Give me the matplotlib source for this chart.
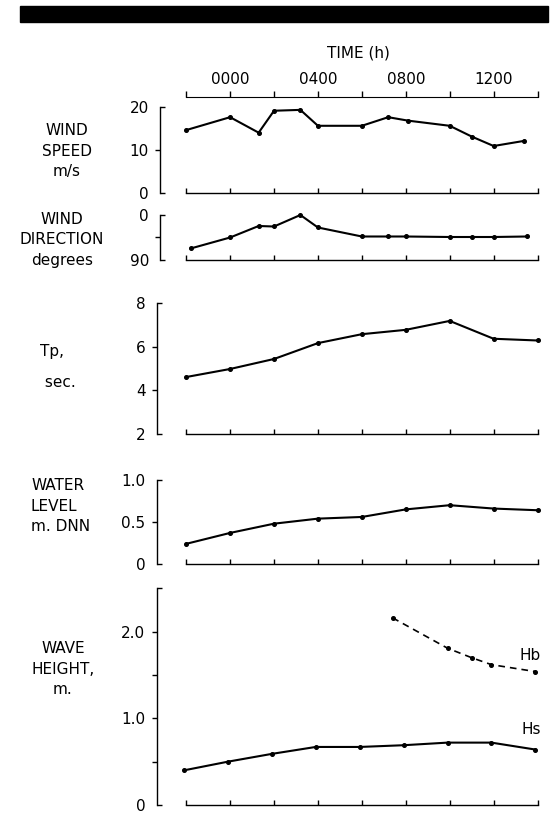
import matplotlib
matplotlib.use("Agg")
import matplotlib.pyplot as plt
from matplotlib.patches import Rectangle

# time axis (hours relative to 0000)
hour_ticks = [-2, 0, 2, 4, 6, 8, 10, 12, 14]
hour_labels = ["", "0000", "", "0400", "", "0800", "", "1200", ""]

# wind speed, m/s
wind_speed_t = [-2.0, 0.0, 1.3, 2.0, 3.2, 4.0, 6.0, 7.2, 8.1, 10.0, 11.0, 12.0, 13.4]
wind_speed = [14.7, 17.7, 14.1, 19.2, 19.4, 15.7, 15.7, 17.7, 16.9, 15.7, 13.2, 11.0, 12.2]

# wind direction, degrees
wind_dir_t = [-1.8, 0.0, 1.3, 2.0, 3.2, 4.0, 6.0, 7.2, 8.0, 10.0, 11.0, 12.0, 13.5]
wind_dir = [67, 45, 22, 23, 0, 25, 43, 43, 43, 44, 44, 44, 43]

# peak period, s
tp_t = [-2, 0, 2, 4, 6, 8, 10, 12, 14]
tp = [4.61, 4.98, 5.44, 6.17, 6.58, 6.78, 7.19, 6.37, 6.29]

# water level, m DNN
water_t = [-2, 0, 2, 4, 6, 8, 10, 12, 14]
water = [0.24, 0.37, 0.48, 0.54, 0.56, 0.65, 0.70, 0.66, 0.64]

# wave heights, m
hs_t = [-2.1, -0.1, 1.9, 3.9, 5.9, 7.9, 9.9, 11.9, 13.9]
hs = [0.40, 0.50, 0.59, 0.67, 0.67, 0.69, 0.72, 0.72, 0.64]
hb_t = [7.4, 9.9, 11.0, 11.9, 13.9]
hb = [2.16, 1.81, 1.70, 1.62, 1.54]

W, H = 551, 813
X0, PPH = 230.1, 21.96   # pixel of hour 0, pixels per hour
XR = 14.3
FS = 11
TL = 3.5

plt.rcParams['font.family'] = ['DejaVu Sans']
fig = plt.figure(figsize=(W / 100, H / 100), dpi=100)

# black bar across the top
fig.patches.append(Rectangle((20 / W, 1 - 22 / H), (548 - 20) / W, 16 / H,
                             transform=fig.transFigure, color='black'))


def add_panel(left_px, top_px, bot_px):
    x_lo = (left_px - X0) / PPH
    right_px = X0 + PPH * XR
    ax = fig.add_axes([left_px / W, 1 - bot_px / H,
                       (right_px - left_px) / W, (bot_px - top_px) / H])
    ax.set_xlim(x_lo, XR)
    for s in ('top', 'right'):
        ax.spines[s].set_visible(False)
    ax.spines['bottom'].set_bounds(-2, 14)
    ax.spines['left'].set_linewidth(1.0)
    ax.spines['bottom'].set_linewidth(1.0)
    ax.set_xticks(hour_ticks, [''] * len(hour_ticks))
    ax.tick_params(axis='x', direction='in', length=TL, width=1.0)
    ax.tick_params(axis='y', which='major', direction='out', length=TL,
                   width=1.0, pad=8 - TL, labelsize=FS)
    ax.tick_params(axis='y', which='minor', direction='in', length=TL,
                   width=1.0, pad=8, labelsize=FS)
    return ax


def set_yaxis(ax, lo, hi, ends, end_labels, mids, mid_labels):
    ax.set_ylim(lo, hi)
    ax.set_yticks(mids, mid_labels)
    ax.set_yticks(ends, end_labels, minor=True)


def side_label(ax, text, x_px, y_px, ha='center', ls=1.45):
    ax.set_ylabel(text, rotation=0, fontsize=FS, ha=ha, va='center',
                  multialignment=ha, linespacing=ls)
    ax.yaxis.set_label_coords(x_px / W, 1 - y_px / H, transform=fig.transFigure)


line_kw = dict(color='black', lw=1.5, marker='o', ms=2.6, clip_on=False)

# time axis on top
tax = fig.add_axes([160 / W, 1 - 96.7 / H, (X0 + PPH * XR - 160) / W, 0.0005])
tax.set_xlim((160 - X0) / PPH, XR)
for s in ('top', 'right', 'left'):
    tax.spines[s].set_visible(False)
tax.spines['bottom'].set_bounds(-2, 14)
tax.set_yticks([])
tax.set_xticks(hour_ticks, hour_labels)
tax.tick_params(axis='x', direction='in', length=TL + 1, width=1.0,
                bottom=True, top=False, labelbottom=False, labeltop=True,
                labelsize=FS, pad=6.5)
tax.xaxis.set_label_position('top')
tax.set_xlabel('TIME (h)', fontsize=FS)
tax.xaxis.set_label_coords(358 / W, 1 - 53 / H, transform=fig.transFigure)
tax.xaxis.label.set_va('center')

# wind speed
ax1 = add_panel(160, 107.3, 193.3)
set_yaxis(ax1, 0, 20, [0, 20], ['0', '20'], [10], ['10'])
ax1.plot(wind_speed_t, wind_speed, **line_kw)
side_label(ax1, 'WIND\nSPEED\nm/s', 67, 151)

# wind direction
ax2 = add_panel(160, 215, 260)
set_yaxis(ax2, 90, 0, [0, 90], ['0', '90'], [45], [''])
ax2.plot(wind_dir_t, wind_dir, **line_kw)
side_label(ax2, 'WIND\nDIRECTION\ndegrees', 62, 240)

# Tp
ax3 = add_panel(156.5, 303.3, 433.8)
set_yaxis(ax3, 2, 8, [2, 8], ['2', '8'], [4, 6], ['4', '6'])
ax3.plot(tp_t, tp, **line_kw)
side_label(ax3, 'Tp,\n sec.', 40, 367, ha='left', ls=2.4)

# water level
ax4 = add_panel(156.5, 480, 564)
set_yaxis(ax4, 0, 1.0, [0, 1.0], ['0', '1.0'], [0.5], ['0.5'])
ax4.plot(water_t, water, **line_kw)
side_label(ax4, 'WATER\nLEVEL\nm. DNN', 31, 506, ha='left')

# wave height
ax5 = add_panel(156.5, 588.4, 805)
set_yaxis(ax5, 0, 2.5, [0, 2.5], ['0', ''], [0.5, 1.0, 1.5, 2.0],
          ['', '1.0', '', '2.0'])
ax5.plot(hs_t, hs, **line_kw)
ax5.plot(hb_t, hb, color='black', lw=1.2, ls=(0, (4, 3)), marker='o', ms=2.6,
         clip_on=False)
ax5.text(13.65, 1.72, 'Hb', fontsize=FS, ha='center', va='center')
ax5.text(13.7, 0.87, 'Hs', fontsize=FS, ha='center', va='center')
side_label(ax5, 'WAVE\nHEIGHT,\nm.', 63, 669)

fig.savefig('out.png', dpi=100)
